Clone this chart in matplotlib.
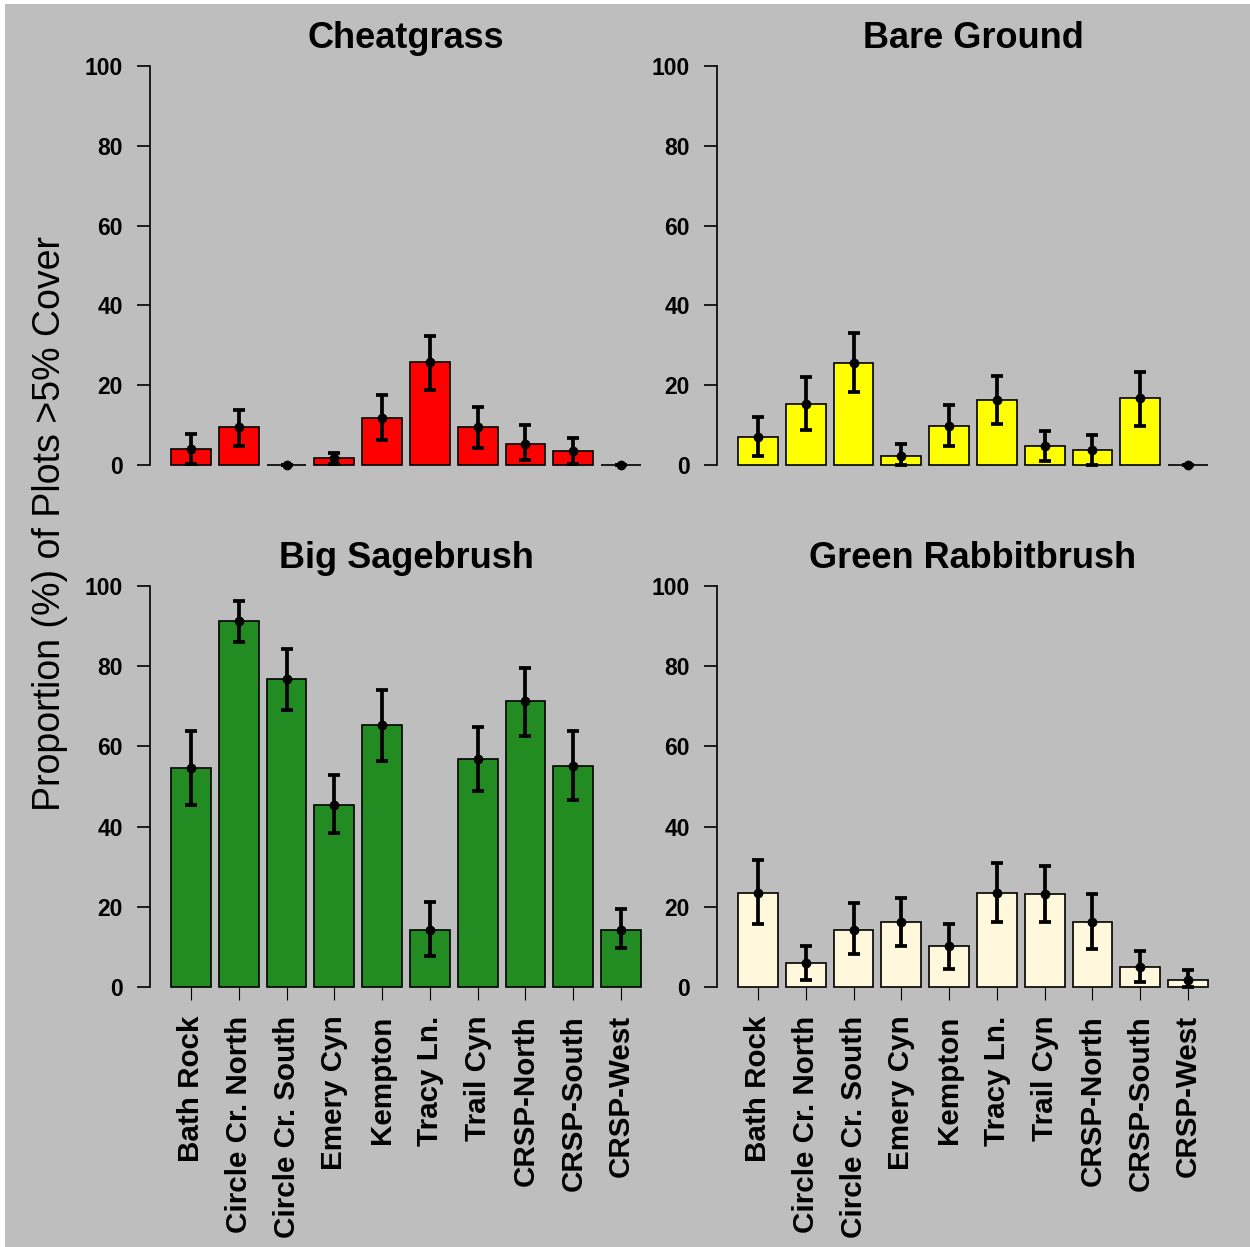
import numpy as np
import matplotlib
matplotlib.use("Agg")
import matplotlib.pyplot as plt
from matplotlib.patches import Rectangle

plt.rcParams["font.family"] = ["Liberation Sans", "DejaVu Sans"]

sites = ["Bath Rock", "Circle Cr. North", "Circle Cr. South", "Emery Cyn",
         "Kempton", "Tracy Ln.", "Trail Cyn", "CRSP-North", "CRSP-South",
         "CRSP-West"]

# mean % of plots with >5% cover, with lower / upper error limits
cheat_mean = [3.9, 9.5, 0.0, 1.7, 11.8, 25.7, 9.5, 5.3, 3.4, 0.0]
cheat_lo = [0.2, 4.8, 0.0, 0.2, 6.3, 18.8, 4.3, 1.2, 0.2, 0.0]
cheat_hi = [7.7, 13.7, 0.0, 3.1, 17.5, 32.3, 14.6, 10.0, 6.8, 0.0]

bare_mean = [7.0, 15.3, 25.6, 2.3, 9.8, 16.3, 4.7, 3.8, 16.7, 0.0]
bare_lo = [2.3, 8.8, 18.2, 0.0, 4.7, 10.3, 1.0, 0.0, 9.7, 0.0]
bare_hi = [12.1, 22.0, 33.1, 5.2, 15.0, 22.4, 8.5, 7.4, 23.4, 0.0]

sage_mean = [54.5, 91.2, 76.8, 45.3, 65.3, 14.3, 56.9, 71.3, 55.1, 14.3]
sage_lo = [45.3, 86.0, 69.0, 38.4, 56.4, 7.8, 49.0, 62.5, 46.7, 9.7]
sage_hi = [63.9, 96.3, 84.4, 52.8, 74.1, 21.2, 64.8, 79.6, 63.8, 19.5]

rabbit_mean = [23.5, 5.9, 14.3, 16.2, 10.1, 23.5, 23.1, 16.2, 5.0, 1.8]
rabbit_lo = [15.8, 1.8, 8.2, 10.1, 4.6, 16.2, 16.2, 9.6, 1.3, 0.0]
rabbit_hi = [31.6, 10.2, 20.9, 22.2, 15.8, 30.9, 30.1, 23.2, 8.9, 4.2]

W, H = 1250, 1247
fig = plt.figure(figsize=(W / 100, H / 100), dpi=100, facecolor="white")
fig.patches.append(Rectangle((5 / W, 0), 1, (H - 4) / H, transform=fig.transFigure,
                             facecolor="#BEBEBE", edgecolor="none", zorder=-10))


def panel(px, py_top, py_bot, title, mean, lo, hi, color, labels=False):
    ax = fig.add_axes([px / W, (H - py_bot) / H, 512 / W, (py_bot - py_top) / H])
    ax.set_facecolor("none")
    x = 0.7 + 1.2 * np.arange(len(mean))
    bars = ax.bar(x, mean, width=1.0, color=color, edgecolor="black",
                  linewidth=1.2, zorder=2)
    for b in bars:
        b.set_clip_on(False)
    mean = np.array(mean)
    yerr = [mean - np.array(lo), np.array(hi) - mean]
    eb = ax.errorbar(x, mean, yerr=yerr, fmt="o", color="black", ms=6,
                     elinewidth=2.7, capsize=4.2, capthick=2.7, zorder=3)
    line, caps, cols = eb.lines
    for art in [line] + list(caps) + list(cols):
        art.set_clip_on(False)
    ax.set_xlim(-0.327, 12.527)
    ax.set_ylim(0, 100)
    for s in ["top", "right", "bottom"]:
        ax.spines[s].set_visible(False)
    ax.spines["left"].set_linewidth(1.2)
    ax.set_yticks([0, 20, 40, 60, 80, 100])
    ax.tick_params(axis="y", direction="out", length=9.4, width=1.2, pad=10,
                   labelsize=16.5)
    for t in ax.get_yticklabels():
        t.set_fontweight("bold")
    if labels:
        ax.set_xticks(x)
        ax.set_xticklabels(sites, rotation=90, fontsize=21.3, fontweight="bold")
        ax.tick_params(axis="x", direction="out", length=9.4, width=0.8, pad=11)
    else:
        ax.set_xticks([])
    ax.set_title(title, fontsize=26, fontweight="bold", pad=13)
    return ax


panel(150, 66, 465, "Cheatgrass", cheat_mean, cheat_lo, cheat_hi, "#FF0000")
panel(717, 66, 465, "Bare Ground", bare_mean, bare_lo, bare_hi, "#FFFF00")
panel(150, 586, 987, "Big Sagebrush", sage_mean, sage_lo, sage_hi, "#228B22",
      labels=True)
panel(717, 586, 987, "Green Rabbitbrush", rabbit_mean, rabbit_lo, rabbit_hi,
      "#FFF8DC", labels=True)

fig.text(50 / W, (H - 524) / H, "Proportion (%) of Plots >5% Cover",
         rotation=90, fontsize=27, ha="center", va="center")

fig.savefig("out.png", dpi=100, facecolor=fig.get_facecolor())
